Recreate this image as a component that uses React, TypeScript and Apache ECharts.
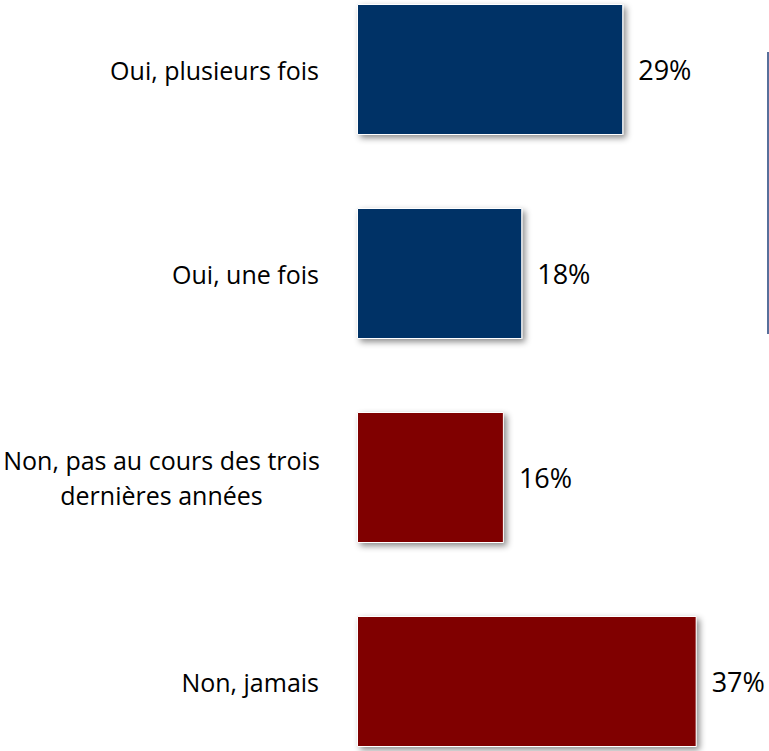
import React, { useEffect, useRef } from "react";
import * as echarts from "echarts";

const categories = [
  "Oui, plusieurs fois",
  "Oui, une fois",
  "Non, pas au cours des trois\ndernières années",
  "Non, jamais",
];
const values = [29, 18, 16, 37];
const barColors = ["#003366", "#003366", "#800000", "#800000"];

const OFFSET = 33;

export default function App() {
  const ref = useRef<HTMLDivElement>(null);
  useEffect(() => {
    const chart = echarts.init(ref.current!, undefined, { renderer: "svg" });
    chart.setOption({
      animation: false,
      grid: { left: 357, width: 367.2, top: 0.5, height: 816, containLabel: false },
      xAxis: {
        type: "value",
        min: 0,
        max: 40,
        show: false,
      },
      yAxis: {
        type: "category",
        inverse: true,
        data: categories,
        axisLine: { show: false },
        axisTick: { show: false },
        splitLine: { show: false },
        axisLabel: {
          margin: 38,
          formatter: (v: string) => (v.indexOf("\n") >= 0 ? `{b|${v}}` : `{a|${v}}`),
          rich: {
            a: {
              fontFamily: "Open Sans",
              fontSize: 25,
              lineHeight: 35,
              color: "#000000",
            },
            b: {
              width: 315,
              align: "center",
              fontFamily: "Open Sans",
              fontSize: 25,
              lineHeight: 35,
              color: "#000000",
            },
          },
          align: "right",
        },
      },
      series: [
        {
          type: "bar",
          data: values.map((v, i) => ({ value: v, itemStyle: { color: barColors[i] } })),
          barWidth: 131,
          itemStyle: {
            borderColor: "#ffffff",
            borderWidth: 1,
            shadowBlur: 6,
            shadowOffsetX: 3,
            shadowOffsetY: 3,
            shadowColor: "rgba(0,0,0,0.45)",
          },
          label: {
            show: true,
            position: "right",
            distance: 15,
            formatter: "{c}%",
            fontFamily: "Open Sans",
            fontSize: 27,
            color: "#000000",
          },
        },
      ],
      graphic: [
        {
          type: "line",
          shape: { x1: 768, y1: 52 + OFFSET, x2: 768, y2: 334 + OFFSET },
          style: { stroke: "#1f3f7a", lineWidth: 1.5 },
        },
      ],
    });
    return () => chart.dispose();
  }, []);
  return (
    <div
      style={{
        position: "absolute",
        left: 0,
        top: 0,
        width: 769,
        height: 751,
        overflow: "hidden",
        background: "#ffffff",
      }}
    >
      <div
        ref={ref}
        style={{ position: "absolute", left: 0, top: -OFFSET, width: 769, height: 820 }}
      />
    </div>
  );
}
